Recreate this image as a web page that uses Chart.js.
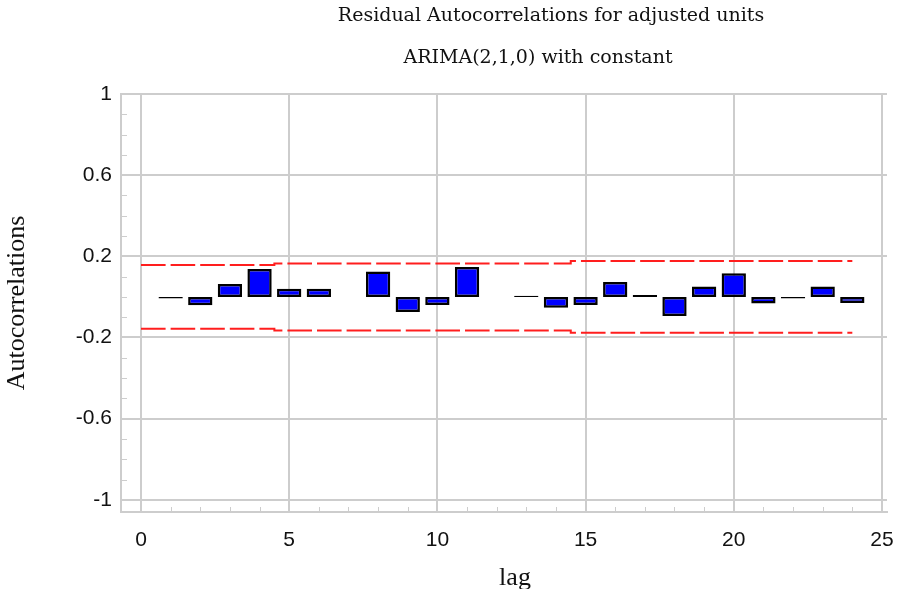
<!DOCTYPE html>
<html>
<head>
<meta charset="utf-8">
<title>Residual Autocorrelations</title>
<script src="https://cdn.jsdelivr.net/npm/chart.js@4.4.0/dist/chart.umd.min.js"></script>
<style>
  html, body { margin: 0; padding: 0; background: #fff; }
  canvas { display: block; }
</style>
</head>
<body>
<canvas id="acfChart" width="900" height="589"></canvas>
<script>
// residual autocorrelation per lag (no bar at lags 7 and 12)
const lags = [1, 2, 3, 4, 5, 6, 7, 8, 9, 10, 11, 12, 13, 14, 15, 16, 17, 18, 19, 20, 21, 22, 23, 24];
const acf = [-0.008, -0.041, 0.064, 0.138, 0.04, 0.04, null, 0.125, -0.074, -0.04, 0.148, null,
             0.006, -0.053, -0.04, 0.074, 0.01, -0.094, 0.051, 0.117, -0.033, -0.008, 0.051, -0.03];

// probability limits around zero
const limitLags = [0, 1, 2, 3, 4, 5, 6, 7, 8, 9, 10, 11, 12, 13, 14, 15, 16, 17, 18, 19, 20, 21, 22, 23, 24];
const upperLimit = [0.157, 0.157, 0.157, 0.157, 0.157, 0.165, 0.165, 0.165, 0.165, 0.165, 0.165, 0.165, 0.165,
                    0.165, 0.165, 0.177, 0.177, 0.177, 0.177, 0.177, 0.177, 0.177, 0.177, 0.177, 0.177];
const lowerLimit = [-0.157, -0.157, -0.157, -0.157, -0.157, -0.165, -0.165, -0.165, -0.165, -0.165, -0.165, -0.165, -0.165,
                    -0.165, -0.165, -0.177, -0.177, -0.177, -0.177, -0.177, -0.177, -0.177, -0.177, -0.177, -0.177];

const xTickLabels = [0, 5, 10, 15, 20, 25];
const yTickLabels = [-1, -0.6, -0.2, 0.2, 0.6, 1];

const gridGrey = '#cdcdcd';
const limitRed = '#ff1e1e';

// small ticks: every 0.1 on y, every lag on x
const minorTicks = {
  id: 'minorTicks',
  beforeDatasetsDraw(chart) {
    const { ctx, chartArea, scales: { x, y } } = chart;
    ctx.save();
    ctx.strokeStyle = gridGrey;
    ctx.lineWidth = 1;
    ctx.beginPath();
    for (let i = -10; i <= 10; i++) {
      const py = Math.round(y.getPixelForValue(i / 10)) + 0.5;
      ctx.moveTo(chartArea.left, py);
      ctx.lineTo(chartArea.left + 6, py);
    }
    for (let i = 0; i <= 25; i++) {
      const px = Math.round(x.getPixelForValue(i)) + 0.5;
      ctx.moveTo(px, chartArea.bottom);
      ctx.lineTo(px, chartArea.bottom - 5);
    }
    ctx.stroke();
    ctx.restore();
  }
};

// titles and axis names
const chartText = {
  id: 'chartText',
  afterDraw(chart) {
    const { ctx, chartArea } = chart;
    ctx.save();
    ctx.fillStyle = '#111';
    ctx.textAlign = 'center';
    ctx.textBaseline = 'alphabetic';
    ctx.font = '19px "DejaVu Serif", serif';
    ctx.fillText('Residual Autocorrelations for adjusted units', 551, 21);
    ctx.fillText('ARIMA(2,1,0) with constant', 538, 63);

    ctx.font = '26px "Liberation Serif", serif';
    ctx.fillText('lag', 515, 585);

    ctx.translate(24, (chartArea.top + chartArea.bottom) / 2);
    ctx.rotate(-Math.PI / 2);
    ctx.fillText('Autocorrelations', 0, 0);
    ctx.restore();
  }
};

const tickFont = { family: '"Liberation Sans", Arial, sans-serif', size: 21 };

new Chart(document.getElementById('acfChart'), {
  type: 'bar',
  data: {
    datasets: [
      {
        type: 'bar',
        data: lags.map((l, i) => ({ x: l, y: acf[i] })),
        backgroundColor: '#0000ff',
        borderColor: '#000',
        borderWidth: 2.5,
        borderSkipped: false,
        barPercentage: 0.82,
        categoryPercentage: 1,
        order: 2
      },
      {
        type: 'line',
        data: limitLags.map((l, i) => ({ x: l, y: upperLimit[i] })),
        borderColor: limitRed,
        borderWidth: 2,
        borderDash: [24.6, 5],
        stepped: 'middle',
        pointRadius: 0,
        fill: false,
        order: 1
      },
      {
        type: 'line',
        data: limitLags.map((l, i) => ({ x: l, y: lowerLimit[i] })),
        borderColor: limitRed,
        borderWidth: 2,
        borderDash: [24.6, 5],
        stepped: 'middle',
        pointRadius: 0,
        fill: false,
        order: 1
      }
    ]
  },
  options: {
    responsive: false,
    animation: false,
    devicePixelRatio: 1,
    layout: { padding: { top: 94, right: 13, left: 0, bottom: 0 } },
    plugins: { legend: { display: false }, tooltip: { enabled: false } },
    scales: {
      x: {
        type: 'linear',
        min: -0.675,
        max: 25.17,
        offset: false,
        afterBuildTicks: s => { s.ticks = xTickLabels.map(v => ({ value: v })); },
        afterFit: s => { s.height = 77; s.paddingLeft = 0; s.paddingRight = 0; },
        grid: { color: gridGrey, lineWidth: 2, drawTicks: false, offset: false },
        border: { color: gridGrey, width: 2 },
        ticks: { font: tickFont, color: '#111', padding: 16, maxRotation: 0, callback: v => String(v) }
      },
      y: {
        min: -1.06,
        max: 1,
        afterBuildTicks: s => { s.ticks = yTickLabels.map(v => ({ value: v })); },
        afterFit: s => { s.width = 121; s.paddingTop = 0; s.paddingBottom = 0; },
        grid: { color: gridGrey, lineWidth: 2, drawTicks: false },
        border: { color: gridGrey, width: 2 },
        ticks: { font: tickFont, color: '#111', padding: 9, callback: v => String(v) }
      }
    }
  },
  plugins: [minorTicks, chartText]
});
</script>
</body>
</html>
